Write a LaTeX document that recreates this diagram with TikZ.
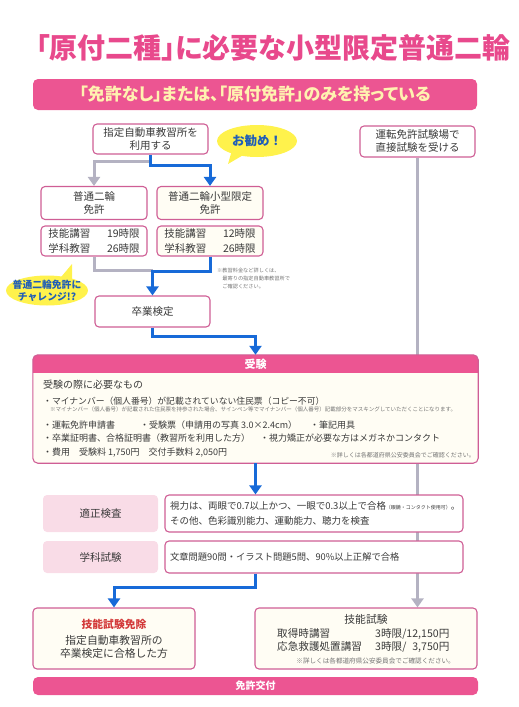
\documentclass[tikz,border=0pt]{standalone}
\usepackage{fontspec}
\setmainfont{Noto Sans CJK JP}
\usepackage{xcolor}
\usetikzlibrary{shapes.geometric, arrows.meta, positioning, calc}
\pgfdeclarelayer{background}
\pgfsetlayers{background,main}

\definecolor{titlepink}{HTML}{E8498C}
\definecolor{bandpink}{HTML}{EC5592}
\definecolor{bandtext}{HTML}{FFF2B0}
\definecolor{boxpink}{HTML}{CF5E95}
\definecolor{cream}{HTML}{FFFDF4}
\definecolor{tagpink}{HTML}{F9DCE7}
\definecolor{bubbleyellow}{HTML}{FFF24C}
\definecolor{bubbleblue}{HTML}{1F5DB8}
\definecolor{arrblue}{HTML}{176AD8}
\definecolor{arrgray}{HTML}{B4B2C2}
\definecolor{exemptred}{HTML}{D33A3A}
\definecolor{bodytext}{HTML}{3A3A3A}

\newcommand{\jfs}[2]{\fontsize{#1}{#2}\selectfont}
\newcommand{\tight}{\addfontfeatures{RawFeature=+palt}}

\begin{document}
\begin{tikzpicture}[x=1pt, y=-1pt,
  box/.style={rectangle, draw=boxpink, line width=1.1pt, fill=white,
    rounded corners=4pt, align=center, inner sep=2pt, text=bodytext,
    font=\jfs{10.5}{13}},
  cbox/.style={box, fill=cream},
  tag/.style={rectangle, fill=tagpink, rounded corners=4pt,
    minimum width=115pt, text=bodytext, font=\jfs{10.5}{13}},
  band/.style={rectangle, fill=bandpink, rounded corners=5pt,
    minimum width=445pt},
  bubbletext/.style={inner sep=0pt, align=center, text=bubbleblue},
  blarr/.style={-{Triangle[width=12pt,length=9pt]}, draw=arrblue, line width=3pt},
  grarr/.style={-{Triangle[width=12pt,length=9pt]}, draw=arrgray, line width=3pt},
  item/.style={anchor=west, inner sep=0pt, text=bodytext, font=\jfs{9}{11}},
  note/.style={inner sep=0pt, text=black!55, align=left, font=\jfs{5.5}{7}}
]
\useasboundingbox (0,0) rectangle (519,707);

% Heading
\node[text=titlepink, font=\bfseries\jfs{28}{32}\tight] (title) at (273,48)
  {「原付二種」に必要な小型限定普通二輪};
\node[band, minimum width=444pt, minimum height=31pt, text=bandtext,
  font=\bfseries\jfs{17}{20}\tight] (start) at (255,94.5)
  {「免許なし」または、「原付免許」のみを持っている};

% Routes
\node[box, minimum width=115pt, minimum height=30pt] (school) at (150.5,139)
  {指定自動車教習所を\\利用する};
\node[box, minimum width=115pt, minimum height=31pt] (direct) at (417.5,141.5)
  {運転免許試験場で\\直接試験を受ける};
\coordinate (recommendc) at (257,141);
\coordinate (recommendtip) at (228,164);
\fill[bubbleyellow] (recommendc) ellipse [x radius=40pt, y radius=16pt];
\fill[bubbleyellow] ($(recommendc)+(-25,9)$) -- (recommendtip)
  -- ($(recommendc)+(-12,13)$) -- cycle;
\node[bubbletext, font=\bfseries\jfs{12.5}{14}] (recommend) at (recommendc) {お勧め！};

% Courses
\node[box, minimum width=106pt, minimum height=33pt] (bigbike) at (94,203)
  {普通二輪\\免許};
\node[cbox, minimum width=106pt, minimum height=33pt] (smallbike) at (210,203)
  {普通二輪小型限定\\免許};
\node[box, minimum width=106pt, minimum height=30pt, align=left,
  font=\jfs{10.5}{15}] (biglessons) at (94,241)
  {技能講習\hspace{1.6em}19時限\\学科教習\hspace{1.6em}26時限};
\node[cbox, minimum width=106pt, minimum height=30pt, align=left,
  font=\jfs{10.5}{15}] (smalllessons) at (210,241)
  {技能講習\hspace{1.6em}12時限\\学科教習\hspace{1.6em}26時限};
\node[note, anchor=north west, font=\jfs{5.2}{8}] (feenote) at (217,268)
  {※教習料金など詳しくは、\\　最寄りの指定自動車教習所で\\　ご確認ください。};
\coordinate (challengec) at (47,290.5);
\coordinate (challengetip) at (72,264);
\fill[bubbleyellow] (challengec) ellipse [x radius=41pt, y radius=15pt];
\fill[bubbleyellow] ($(challengec)+(12,-11)$) -- (challengetip)
  -- ($(challengec)+(25,-9)$) -- cycle;
\node[bubbletext, font=\bfseries\jfs{9.8}{12}] (challenge) at (challengec)
  {普通二輪免許に\\チャレンジ!?};
\node[box, minimum width=115pt, minimum height=31pt] (grad) at (152.5,311.5)
  {卒業検定};

% Exam
\node[rectangle, fill=cream, rounded corners=5pt, minimum width=445pt,
  minimum height=108pt] (exam) at (255.5,409) {};
\begin{scope}
  \clip (exam.north west) rectangle ($(exam.north east)+(0,18)$);
  \fill[bandpink, rounded corners=5pt] (exam.north west) rectangle (exam.south east);
\end{scope}
\draw[boxpink, line width=1.1pt, rounded corners=5pt] (exam.north west) rectangle (exam.south east);
\node[text=white, font=\bfseries\jfs{11}{13}] (examtitle) at ($(exam.north)+(0,9)$) {受験};
\node[item, font=\jfs{10}{12}] (needs) at (43,385) {受験の際に必要なもの};
\node[item, font=\jfs{8.8}{11}] (mynumber) at (43,401.5)
  {・マイナンバー（個人番号）が記載されていない住民票（コピー不可）};
\node[note, anchor=west] (masknote) at (50,409.5)
  {※マイナンバー（個人番号）が記載された住民票を持参された場合、サインペン等でマイナンバー（個人番号）記載部分をマスキングしていただくことになります。};
\node[item] (form) at (43,425) {・運転免許申請書};
\node[item] (ticket) at (140,425) {・受験票（申請用の写真 3.0×2.4cm）};
\node[item] (pen) at (310,425) {・筆記用具};
\node[item] (certificate) at (43,438.5) {・卒業証明書、合格証明書（教習所を利用した方）};
\node[item] (glasses) at (260,438.5) {・視力矯正が必要な方はメガネかコンタクト};
\node[item] (fees) at (43,452.5) {・費用　受験料 1,750円　交付手数料 2,050円};
\node[note, anchor=east, font=\jfs{6}{7}] (examnote) at (475,455)
  {※詳しくは各都道府県公安委員会でご確認ください。};

% Checks
\node[tag, minimum height=37pt] (aptitude) at (100.5,513.5) {適正検査};
\node[box, minimum height=37pt, text width=288pt, inner xsep=5pt, align=left,
  font=\jfs{9.5}{15}] (aptdetail) at (314,513.5)
  {視力は、両眼で0.7以上かつ、一眼で0.3以上で合格{\jfs{5}{6}（眼鏡・コンタクト使用可）}。\\その他、色彩識別能力、運動能力、聴力を検査};
\node[tag, minimum height=32pt] (written) at (100.5,557) {学科試験};
\node[box, minimum height=32pt, text width=288pt, inner xsep=5pt, align=left,
  font=\jfs{9.3}{12}] (writdetail) at (314,557)
  {文章問題90問・イラスト問題5問、90\%以上正解で合格};

% Results
\node[cbox, minimum width=162pt, minimum height=61pt, font=\jfs{10.8}{13}] (exempt) at (114,638.5)
  {{\color{exemptred}\bfseries 技能試験免除}\\[3pt]指定自動車教習所の\\卒業検定に合格した方};
\node[cbox, minimum width=222pt, minimum height=61pt] (skilltest) at (366,638.5) {};
\node[inner sep=0pt, text=bodytext, font=\jfs{10.8}{13}] (skilltitle) at (366,619) {技能試験};
\node[item, font=\jfs{10.6}{13.5}, align=left] (lectures) at (277,640.5)
  {\makebox[98pt][l]{取得時講習}3時限/12,150円\\\makebox[98pt][l]{応急救護処置講習}3時限/\hphantom{1}3,750円};
\node[note, anchor=east, font=\jfs{6.6}{8}] (skillnote) at (455,661)
  {※詳しくは各都道府県公安委員会でご確認ください。};
\node[band, minimum height=18pt, text=white, font=\bfseries\jfs{10}{12}] (issue) at (255.5,686) {免許交付};

% Arrows
\begin{pgfonlayer}{background}
  \draw[grarr] (direct.south) -- (direct.south |- skilltest.north);
\end{pgfonlayer}
\draw[grarr] ($(school.south)+(0,7)$) -| (bigbike.north);
\draw[blarr] (school.south) -- ++(0,11) -| (smallbike.north);
\draw[grarr, -] (biglessons.south) |- ($(grad.north)+(0,-25)$);
\draw[blarr] (smalllessons.south) -- ++(0,15) -| (grad.north);
\draw[blarr] (grad.south) -- ++(0,9) -| (exam.north);
\draw[blarr] (exam.south) -- (exam.south |- aptdetail.north);
\draw[blarr] (exam.south |- writdetail.south) -- ++(0,14) -| (exempt.north);

\end{tikzpicture}
\end{document}
